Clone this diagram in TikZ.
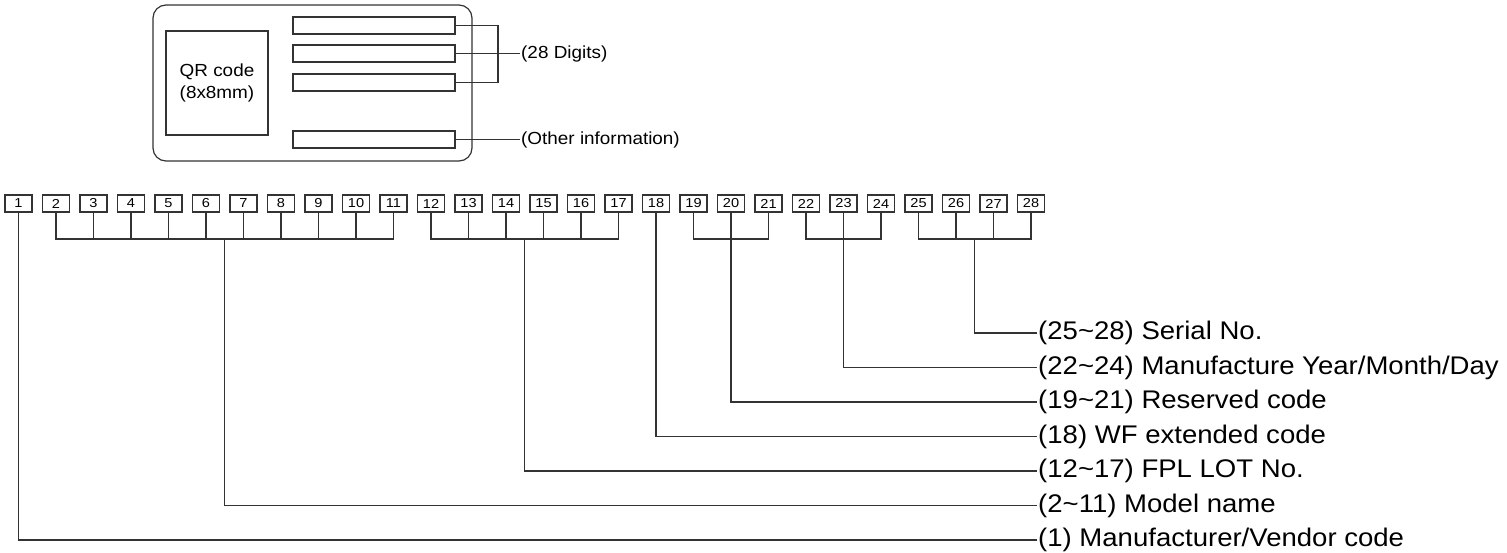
\documentclass[tikz,border=0pt]{standalone}
\usepackage{fontspec}
\setmainfont{Liberation Sans}
\newfontfamily\widesans[FakeStretch=1.08]{Liberation Sans}
\newfontfamily\digitsans[FakeStretch=1.12]{Liberation Sans}
\usetikzlibrary{calc}
\begin{document}
\begin{tikzpicture}[x=1pt,y=-1pt,
  ln/.style={draw=black!80,line width=1.2pt},
  dbox/.style={ln,minimum width=27pt,minimum height=17pt,inner sep=0pt,font=\digitsans\fontsize{13}{13}\selectfont},
  bar/.style={ln,minimum width=162pt,minimum height=17pt,inner sep=0pt},
  lbl/.style={anchor=west,inner sep=1pt,font=\widesans\fontsize{25.5}{30}\selectfont},
  slbl/.style={anchor=west,inner sep=1pt,font=\widesans\fontsize{17.5}{22}\selectfont}]
\useasboundingbox (0,0) rectangle (1507,552);
% top label sketch
\draw[ln,rounded corners=13pt] (153,5) rectangle (472,161);
\node[ln,minimum width=102pt,minimum height=104pt,inner sep=0pt] (qr) at (217,83) {};
\node[align=center,inner sep=0pt,font=\widesans\fontsize{17.5}{22}\selectfont] (qrt) at (217,83) {QR code\\(8x8mm)};
\node[bar] (bar1) at (374,25.5) {};
\node[bar] (bar2) at (374,53.5) {};
\node[bar] (bar3) at (374,82.5) {};
\node[bar] (bar4) at (374,139.5) {};
\node[slbl] (dig) at (520,53.5) {(28 Digits)};
\node[slbl] (oth) at (520,139.5) {(Other information)};
\coordinate (j) at (498,53.5);
\draw[ln] (bar1.east) -| (j);
\draw[ln] (bar3.east) -| (j);
\draw[ln] (bar2.east) -- (dig.west);
\draw[ln] (bar4.east) -- (oth.west);
% digit boxes
\foreach \i in {1,...,28}{
  \node[dbox] (d\i) at ({18.5+37.5*(\i-1)},203.5) {\i};
}
\def\busy{239}
% group bus lines
\foreach \a/\b in {2/11,12/17,19/21,22/24,25/28}{
  \draw[ln] (d\a.south) -- (d\a.south |- 0,\busy) -- (d\b.south |- 0,\busy) -- (d\b.south);
}
\foreach \i in {3,...,10,13,14,15,16,20,23,26,27}{
  \draw[ln] (d\i.south) -- (d\i.south |- 0,\busy);
}
\coordinate (g2) at ($(d2.south |- 0,\busy)!0.5!(d11.south |- 0,\busy)$);
\coordinate (g12) at ($(d12.south |- 0,\busy)!0.5!(d17.south |- 0,\busy)$);
\coordinate (g19) at (d20.south |- 0,\busy);
\coordinate (g22) at (d23.south |- 0,\busy);
\coordinate (g25) at ($(d25.south |- 0,\busy)!0.5!(d28.south |- 0,\busy)$);
% labels
\node[lbl] (l25) at (1037,333) {(25\textasciitilde 28) Serial No.};
\node[lbl] (l22) at (1037,367.5) {(22\textasciitilde 24) Manufacture Year/Month/Day};
\node[lbl] (l19) at (1037,402) {(19\textasciitilde 21) Reserved code};
\node[lbl] (l18) at (1037,436.5) {(18) WF extended code};
\node[lbl] (l12) at (1037,471) {(12\textasciitilde 17) FPL LOT No.};
\node[lbl] (l2) at (1037,505.5) {(2\textasciitilde 11) Model name};
\node[lbl] (l1) at (1037,540) {(1) Manufacturer/Vendor code};
% stems
\draw[ln] (g25) |- (l25.west);
\draw[ln] (g22) |- (l22.west);
\draw[ln] (g19) |- (l19.west);
\draw[ln] (d18.south) |- (l18.west);
\draw[ln] (g12) |- (l12.west);
\draw[ln] (g2) |- (l2.west);
\draw[ln] (d1.south) |- (l1.west);
\end{tikzpicture}
\end{document}
